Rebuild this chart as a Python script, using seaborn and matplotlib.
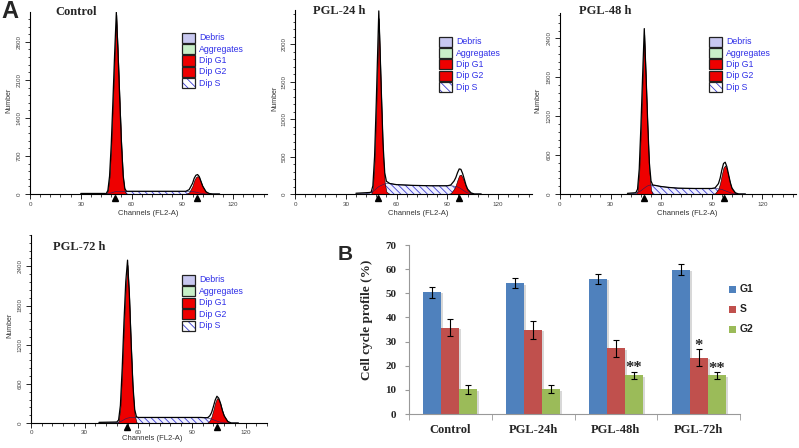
import matplotlib
matplotlib.use("Agg")
import matplotlib.pyplot as plt
import matplotlib.patheffects as pe
from matplotlib.patches import Rectangle
from matplotlib.ticker import MultipleLocator
import numpy as np
import pandas as pd
import seaborn as sns

# ------ panel A : ModFit DNA histograms, counts ------
# Control
ctrl_ch  = [30, 44, 45, 46, 47, 48, 49, 50, 51, 52, 53, 54, 55, 56, 57, 58, 70, 85, 92, 94, 96, 97, 98, 99, 100, 101, 102, 104, 106, 108, 112]
ctrl_deb = [10, 10, 5, 0, 0, 0, 0, 0, 0, 0, 0, 0, 0, 0, 0, 0, 0, 0, 0, 0, 0, 0, 0, 0, 0, 0, 0, 0, 0, 0, 0]
ctrl_s   = [0, 0, 3, 5, 10, 20, 30, 40, 45, 50, 50, 50, 50, 50, 50, 50, 50, 50, 50, 50, 45, 40, 35, 28, 20, 12, 6, 0, 0, 0, 0]
ctrl_g1  = [0, 0, 0, 60, 320, 900, 1700, 2550, 3300, 2550, 1700, 900, 300, 50, 0, 0, 0, 0, 0, 0, 0, 0, 0, 0, 0, 0, 0, 0, 0, 0, 0]
ctrl_g2  = [0, 0, 0, 0, 0, 0, 0, 0, 0, 0, 0, 0, 0, 0, 0, 0, 0, 0, 0, 30, 150, 250, 310, 330, 300, 220, 140, 40, 8, 0, 0]

# PGL-24 h
h24_ch  = [36, 44, 45, 46, 47, 48, 49, 49.5, 50, 51, 52, 53, 54, 56, 60, 70, 80, 90, 92, 94, 95, 96, 97, 98, 99, 100, 101, 102, 104, 106, 110]
h24_deb = [10, 10, 5, 0, 0, 0, 0, 0, 0, 0, 0, 0, 0, 0, 0, 0, 0, 0, 0, 0, 0, 0, 0, 0, 0, 0, 0, 0, 0, 0, 0]
h24_s   = [0, 10, 20, 30, 50, 70, 90, 98, 105, 115, 125, 135, 140, 140, 125, 115, 110, 110, 110, 105, 100, 95, 85, 70, 55, 40, 25, 15, 5, 0, 0]
h24_g1  = [0, 0, 0, 80, 450, 1150, 1950, 2350, 2000, 1250, 550, 150, 30, 0, 0, 0, 0, 0, 0, 0, 0, 0, 0, 0, 0, 0, 0, 0, 0, 0, 0]
h24_g2  = [0, 0, 0, 0, 0, 0, 0, 0, 0, 0, 0, 0, 0, 0, 0, 0, 0, 0, 10, 70, 120, 190, 250, 260, 220, 160, 95, 50, 10, 0, 0]

# PGL-48 h
h48_ch  = [40, 45, 46, 47, 48, 49, 50, 51, 52, 53, 54, 55, 56, 60, 65, 70, 80, 90, 92, 94, 95, 96, 97, 98, 99, 100, 101, 102, 104, 106, 110]
h48_deb = [10, 10, 5, 0, 0, 0, 0, 0, 0, 0, 0, 0, 0, 0, 0, 0, 0, 0, 0, 0, 0, 0, 0, 0, 0, 0, 0, 0, 0, 0, 0]
h48_s   = [0, 10, 20, 35, 50, 70, 90, 110, 125, 135, 140, 138, 135, 115, 100, 90, 85, 85, 85, 80, 75, 70, 60, 50, 40, 30, 20, 12, 4, 0, 0]
h48_g1  = [0, 0, 50, 350, 1000, 1750, 2460, 1750, 1000, 350, 60, 0, 0, 0, 0, 0, 0, 0, 0, 0, 0, 0, 0, 0, 0, 0, 0, 0, 0, 0, 0]
h48_g2  = [0, 0, 0, 0, 0, 0, 0, 0, 0, 0, 0, 0, 0, 0, 0, 0, 0, 0, 10, 80, 170, 300, 410, 440, 380, 270, 160, 80, 15, 0, 0]

# PGL-72 h
h72_ch  = [38, 48, 49, 50, 51, 52, 53, 54, 55, 56, 57, 58, 59, 60, 65, 80, 95, 98, 99, 100, 101, 102, 103, 104, 105, 106, 107, 108, 110, 112, 116]
h72_deb = [10, 10, 5, 0, 0, 0, 0, 0, 0, 0, 0, 0, 0, 0, 0, 0, 0, 0, 0, 0, 0, 0, 0, 0, 0, 0, 0, 0, 0, 0, 0]
h72_s   = [0, 5, 12, 20, 35, 50, 65, 75, 80, 85, 85, 85, 85, 85, 85, 85, 85, 80, 75, 70, 60, 50, 40, 30, 20, 12, 6, 2, 0, 0, 0]
h72_g1  = [0, 0, 30, 250, 800, 1500, 2100, 2420, 1900, 1150, 500, 120, 10, 0, 0, 0, 0, 0, 0, 0, 0, 0, 0, 0, 0, 0, 0, 0, 0, 0, 0]
h72_g2  = [0, 0, 0, 0, 0, 0, 0, 0, 0, 0, 0, 0, 0, 0, 0, 0, 0, 0, 10, 40, 100, 200, 310, 380, 360, 290, 190, 110, 25, 0, 0]

# G1 / G2 peak markers (channel)
g1_mark = [50.2, 49.3, 49.9, 53.8]
g2_mark = [98.7, 96.6, 97.3, 104.0]

hist_titles = ["Control", "PGL-24 h", "PGL-48 h", "PGL-72 h"]
hist_xticks = [0, 30, 60, 90, 120]
hist_yticks = [[0, 700, 1400, 2100, 2800], [0, 500, 1000, 1500, 2000],
               [0, 600, 1200, 1800, 2400], [0, 600, 1200, 1800, 2400]]
legend_labels = ["Debris", "Aggregates", "Dip G1", "Dip G2", "Dip S"]
legend_colors = ["#c8c8f0", "#c8f0c8", "#ee0000", "#ee0000", "white"]

# ------ panel B : cell cycle profile (%) ------
groups = ["Control", "PGL-24h", "PGL-48h", "PGL-72h"]
phases = ["G1", "S", "G2"]
g1_pct = [50.5, 54.2, 56.0, 59.8]
s_pct  = [35.8, 34.9, 27.2, 23.4]
g2_pct = [10.3, 10.3, 16.0, 16.0]
g1_err = [2.3, 2.1, 2.0, 2.2]
s_err  = [3.5, 3.7, 3.5, 3.5]
g2_err = [1.9, 1.8, 1.6, 1.5]
phase_colors = ["#4f81bd", "#c0504d", "#9bbb59"]
stars = [("PGL-48h", "G2", "**"), ("PGL-72h", "S", "*"), ("PGL-72h", "G2", "**")]

sns.set_style("ticks")
plt.rcParams["font.family"] = ["Liberation Sans", "DejaVu Sans"]
plt.rcParams["hatch.linewidth"] = 0.6

W, H = 799, 448
fig = plt.figure(figsize=(W / 100, H / 100), dpi=100)


def box(left, top, right, bottom):
    return [left / W, 1 - bottom / H, (right - left) / W, (bottom - top) / H]


def ftext(x, y, s, **kw):
    fig.text(x / W, 1 - y / H, s, **kw)


serif = ["Liberation Serif", "DejaVu Serif"]
hist_boxes = [(30, 12, 267, 194), (295, 10, 532, 194), (560, 13, 796, 194), (31, 235, 267, 423)]
hist_xmax = [140, 140, 140, 132]
hist_ymax = [3350, 2460, 2790, 2880]
title_pos = [(55, 12), (313, 11), (579, 11), (53, 247)]
legend_pos = [(182, 37.7), (439, 41.7), (709, 41.7), (182, 280)]
ylab_pos = [(9, 100), (275, 98), (538, 100), (10, 325)]
xlab_pos = [(148, 213), (418, 213), (687, 213), (152, 438)]
tick_pad = [2.5, 2.5, 2.5, 1.2]

panels = [
    (ctrl_ch, ctrl_deb, ctrl_s, ctrl_g1, ctrl_g2),
    (h24_ch, h24_deb, h24_s, h24_g1, h24_g2),
    (h48_ch, h48_deb, h48_s, h48_g1, h48_g2),
    (h72_ch, h72_deb, h72_s, h72_g1, h72_g2),
]

for i, (ch, deb, s, g1, g2) in enumerate(panels):
    ax = fig.add_axes(box(*hist_boxes[i]))
    ch = np.array(ch, float)
    deb, s, g1, g2 = (np.array(v, float) for v in (deb, s, g1, g2))
    total = deb + s + g1 + g2

    # S phase hatched, G1/G2 red peaks, total fit outline
    ax.fill_between(ch, 0, s, facecolor="#f0f0ff", edgecolor="#3a3ad0", hatch="\\\\\\\\\\", lw=0)
    ax.plot(ch, s, color="#202060", lw=0.4)
    ax.fill_between(ch, 0, g1, facecolor="#ee0000", edgecolor="black", lw=0.4)
    ax.fill_between(ch, 0, g2, facecolor="#ee0000", edgecolor="black", lw=0.4)
    sns.lineplot(x=ch, y=total, ax=ax, color="black", lw=0.9, sort=False)

    ax.plot([g1_mark[i], g2_mark[i]], [-0.022, -0.022], transform=ax.get_xaxis_transform(),
            marker="^", ls="none", color="black", ms=4.5, clip_on=False)

    ax.set_xlim(0, hist_xmax[i])
    ax.set_ylim(0, hist_ymax[i])
    ax.set_xticks(hist_xticks)
    ax.set_yticks(hist_yticks[i])
    ax.xaxis.set_minor_locator(MultipleLocator(6))
    ax.yaxis.set_minor_locator(MultipleLocator(hist_yticks[i][1] / 5))
    ax.tick_params(which="major", length=3.5, width=0.7, labelsize=4.5, labelcolor="#444444", pad=2.5)
    ax.tick_params(axis="x", pad=tick_pad[i])
    ax.tick_params(which="minor", length=1.8, width=0.6)
    ax.tick_params(axis="y", labelrotation=90)
    for lab in ax.get_yticklabels():
        lab.set_va("center")
    ax.set_xlabel("")
    ax.set_ylabel("")
    sns.despine(ax=ax)
    for sp in ("left", "bottom"):
        ax.spines[sp].set_linewidth(0.8)
        ax.spines[sp].set_color("black")

    ftext(*title_pos[i], hist_titles[i], family=serif, fontweight="bold", fontsize=9, va="center")
    ftext(*ylab_pos[i], "Number", fontsize=5, rotation=90, ha="center", va="center", color="#333333")
    ftext(*xlab_pos[i], "Channels (FL2-A)", fontsize=5.5, ha="center", va="center", color="#333333")

    # ModFit legend
    lx, ly = legend_pos[i]
    for k, (lab, col) in enumerate(zip(legend_labels, legend_colors)):
        cy = ly + k * 11.4
        r = box(lx, cy - 5, lx + 12.5, cy + 5)
        if lab == "Dip S":
            fig.add_artist(Rectangle((r[0], r[1]), r[2], r[3], transform=fig.transFigure,
                                     facecolor="white", edgecolor="#3a3ad0", hatch="\\\\\\\\", lw=0))
            col = "none"
        fig.add_artist(Rectangle((r[0], r[1]), r[2], r[3], transform=fig.transFigure,
                                 facecolor=col, edgecolor="#222222", lw=0.9))
        ftext(lx + 17, cy, lab, fontsize=6.3, color="#3030e8", va="center")

ftext(10, 12, "A", fontsize=17, fontweight="bold", ha="center", va="center")

# ------ panel B ------
axb = fig.add_axes(box(409, 245, 740, 414))
df = pd.DataFrame({
    "group": groups * 3,
    "phase": ["G1"] * 4 + ["S"] * 4 + ["G2"] * 4,
    "value": g1_pct + s_pct + g2_pct,
})
sns.barplot(data=df, x="group", y="value", hue="phase", hue_order=phases, order=groups,
            palette=phase_colors, width=0.65, errorbar=None, saturation=1,
            edgecolor="none", legend=False, ax=axb)

centers = {}
for cont, ph, errs in zip(axb.containers, phases, [g1_err, s_err, g2_err]):
    xs = [p.get_x() + p.get_width() / 2 for p in cont]
    ys = [p.get_height() for p in cont]
    axb.errorbar(xs, ys, yerr=errs, fmt="none", ecolor="black", elinewidth=0.8,
                 capsize=2.5, capthick=0.8)
    for g, x, y, e in zip(groups, xs, ys, errs):
        centers[(g, ph)] = (x, y + e)
for p in axb.patches:
    p.set_path_effects([pe.SimplePatchShadow(offset=(1.5, -1), shadow_rgbFace="gray", alpha=0.3), pe.Normal()])

for g, ph, mark in stars:
    x, y = centers[(g, ph)]
    axb.text(x, y - 2.0, mark, ha="center", va="bottom", fontsize=12, family=serif, fontweight="bold")

axb.set_xlim(-0.5, 3.5)
axb.set_ylim(0, 70)
axb.set_yticks(range(0, 71, 10))
axb.set_xticks(range(4))
axb.set_xticklabels(groups)
axb.set_xticks([-0.5, 0.5, 1.5, 2.5, 3.5], minor=True)
axb.tick_params(axis="x", which="major", length=0, pad=7)
axb.tick_params(axis="x", which="minor", length=4, color="#999999")
axb.tick_params(axis="y", length=3, color="#999999", pad=6)
for lab in axb.get_xticklabels():
    lab.set_family(serif)
    lab.set_fontweight("bold")
    lab.set_fontsize(9)
for lab in axb.get_yticklabels():
    lab.set_family(serif)
    lab.set_fontweight("bold")
    lab.set_fontsize(8)
axb.set_xlabel("")
axb.set_ylabel("")
sns.despine(ax=axb)
for sp in ("left", "bottom"):
    axb.spines[sp].set_color("#999999")
    axb.spines[sp].set_linewidth(0.8)

ftext(367, 320, "Cell cycle profile (%)", rotation=90, family=serif, fontweight="bold",
      fontsize=9.5, ha="center", va="center")
ftext(345.5, 254.5, "B", fontsize=15, fontweight="bold", ha="center", va="center")

for k, (ph, col) in enumerate(zip(phases, phase_colors)):
    cy = 289 + k * 20
    r = box(729, cy - 3.5, 736, cy + 3.5)
    fig.add_artist(Rectangle((r[0], r[1]), r[2], r[3], transform=fig.transFigure,
                             facecolor=col, edgecolor="none"))
    ftext(740, cy, ph, fontsize=7.5, fontweight="bold", va="center", color="#222222")

fig.savefig("out.png", dpi=100)
